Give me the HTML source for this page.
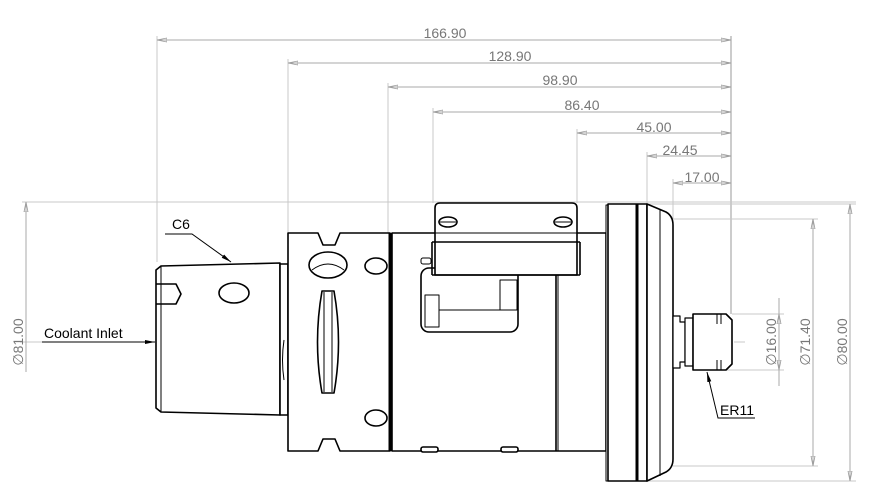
<!DOCTYPE html>
<html><head><style>body{margin:0;background:#fff}svg{display:block}</style></head><body>
<svg width="890" height="497" viewBox="0 0 890 497" xmlns="http://www.w3.org/2000/svg" font-family="Liberation Sans, sans-serif">
<defs>
<marker id="ag" markerWidth="10" markerHeight="6" refX="10" refY="3" orient="auto-start-reverse" markerUnits="userSpaceOnUse"><path d="M0,1 L10,3 L0,5 Z" fill="none" stroke="#999" stroke-width="0.8"/></marker>
<marker id="ab" markerWidth="10" markerHeight="6" refX="10" refY="3" orient="auto" markerUnits="userSpaceOnUse"><path d="M0,1 L10,3 L0,5 Z" fill="#000"/></marker>
</defs>
<g stroke="#c8c8c8" stroke-width="1" fill="none">
<line x1="157" y1="36" x2="157" y2="262"/>
<line x1="288" y1="59" x2="288" y2="233"/>
<line x1="388" y1="83" x2="388" y2="233"/>
<line x1="433" y1="108" x2="433" y2="203"/>
<line x1="577" y1="129" x2="577" y2="203"/>
<line x1="647" y1="152" x2="647" y2="204"/>
<line x1="673" y1="179" x2="673" y2="219"/>
<line x1="731" y1="36" x2="731" y2="314" stroke="#999"/>
<line x1="22" y1="202" x2="856" y2="202"/>
<line x1="647" y1="204" x2="856" y2="204"/>
<line x1="673" y1="219" x2="818" y2="219"/>
<line x1="673" y1="466" x2="818" y2="466"/>
<line x1="647" y1="481" x2="856" y2="481"/>
<line x1="732" y1="314" x2="784" y2="314"/>
<line x1="707" y1="370" x2="784" y2="370"/>
<line x1="20" y1="342" x2="745" y2="342" stroke-dasharray="30,4,4,4"/>
</g>
<g stroke="#aaa" stroke-width="1" fill="none">
<line x1="157" y1="40" x2="731" y2="40" marker-start="url(#ag)" marker-end="url(#ag)"/>
<line x1="288" y1="63" x2="731" y2="63" marker-start="url(#ag)" marker-end="url(#ag)"/>
<line x1="388" y1="87" x2="731" y2="87" marker-start="url(#ag)" marker-end="url(#ag)"/>
<line x1="433" y1="112" x2="731" y2="112" marker-start="url(#ag)" marker-end="url(#ag)"/>
<line x1="577" y1="133" x2="731" y2="133" marker-start="url(#ag)" marker-end="url(#ag)"/>
<line x1="647" y1="156" x2="731" y2="156" marker-start="url(#ag)" marker-end="url(#ag)"/>
<line x1="673" y1="183" x2="731" y2="183" marker-start="url(#ag)" marker-end="url(#ag)"/>
<line x1="26" y1="202" x2="26" y2="372" marker-start="url(#ag)"/>
<line x1="779" y1="298" x2="779" y2="386"/>
<line x1="779" y1="314" x2="779" y2="370" marker-start="url(#ag)" marker-end="url(#ag)"/>
<line x1="813" y1="219" x2="813" y2="466" marker-start="url(#ag)" marker-end="url(#ag)"/>
<line x1="850" y1="204" x2="850" y2="481" marker-start="url(#ag)" marker-end="url(#ag)"/>
</g>
<g fill="#777" font-size="14">
<text x="445" y="38" text-anchor="middle">166.90</text>
<text x="510" y="61" text-anchor="middle">128.90</text>
<text x="560" y="85" text-anchor="middle">98.90</text>
<text x="582" y="110" text-anchor="middle">86.40</text>
<text x="654" y="132" text-anchor="middle">45.00</text>
<text x="680" y="155" text-anchor="middle">24.45</text>
<text x="702" y="182" text-anchor="middle">17.00</text>
<text transform="translate(23,342) rotate(-90)" text-anchor="middle">∅81.00</text>
<text transform="translate(776,342) rotate(-90)" text-anchor="middle">∅16.00</text>
<text transform="translate(810,342) rotate(-90)" text-anchor="middle">∅71.40</text>
<text transform="translate(847,342) rotate(-90)" text-anchor="middle">∅80.00</text>
</g>
<g stroke="#000" stroke-width="1.6" fill="#fff" stroke-linejoin="round">
<path d="M161,266 L280,263 L280,415 L161,412 L156,408 L156,270 Z"/>
<path d="M156,284 L176,284 L181,294 L176,304 L156,304" fill="none"/>
<line x1="161" y1="266" x2="161" y2="412" stroke-width="1"/>
<rect x="280" y="264" width="8" height="151"/>
<path d="M288,233 L318,233 L323,245 L335,245 L340,233 L390,233 L390,451 L340,451 L335,439 L323,439 L318,451 L288,451 Z"/>
<path d="M284,340 Q281,360 284,380" fill="none" stroke-width="1"/>
<line x1="390" y1="233" x2="390" y2="451" stroke-width="3"/>
<rect x="392" y="233" width="214" height="218"/>
<line x1="556" y1="274" x2="556" y2="451"/>
<line x1="558" y1="274" x2="558" y2="451" stroke-width="1"/>
<ellipse cx="328" cy="265" rx="19" ry="13"/>
<path d="M312,270 Q328,258 344,270" fill="none" stroke-width="1"/>
<ellipse cx="376" cy="266" rx="11" ry="8"/>
<ellipse cx="376" cy="418" rx="11" ry="8"/>
<ellipse cx="234" cy="293" rx="15" ry="10"/>
<path d="M322,291 L334,291 Q343,342 334,393 L322,393 Q313,342 322,291 Z"/>
<line x1="324" y1="292" x2="324" y2="392" stroke-width="1"/>
<line x1="332" y1="292" x2="332" y2="392" stroke-width="1"/>
<rect x="421" y="268" width="97" height="64" rx="8"/>
<rect x="425" y="295" width="14" height="32" stroke-width="1"/>
<rect x="500" y="280" width="17" height="30" stroke-width="1"/>
<line x1="439" y1="310" x2="500" y2="310" stroke-width="1"/>
<path d="M435,275 L435,208 Q435,203 440,203 L572,203 Q577,203 577,208 L577,275 Z"/>
<line x1="435" y1="233" x2="577" y2="233" stroke-width="1"/>
<line x1="432" y1="242" x2="580" y2="242"/>
<line x1="432" y1="242" x2="432" y2="275"/><line x1="580" y1="242" x2="580" y2="275"/>
<line x1="432" y1="275" x2="580" y2="275"/>
<ellipse cx="448" cy="222" rx="9" ry="5"/><line x1="440" y1="222" x2="456" y2="222" stroke-width="1"/>
<ellipse cx="563" cy="222" rx="9" ry="5"/><line x1="555" y1="222" x2="571" y2="222" stroke-width="1"/>
<rect x="421" y="447" width="17" height="5" rx="2"/>
<rect x="501" y="447" width="17" height="5" rx="2"/>
<rect x="421" y="258" width="10" height="6" rx="2" stroke-width="1"/>
<rect x="606" y="205" width="4" height="276" stroke-width="1"/>
<rect x="608" y="204" width="39" height="277"/>
<line x1="637" y1="204" x2="637" y2="481" stroke-width="3"/>
<path d="M647,204 L666,212 Q673,216 673,225 L673,459 Q673,468 666,472 L647,481 Z"/>
<line x1="660" y1="210" x2="660" y2="476" stroke-width="1"/>
<path d="M673,316 L680,316 L680,322 L685,322 L685,362 L680,362 L680,368 L673,368 Z" stroke-width="1.2"/>
<rect x="685" y="318" width="8" height="48" stroke-width="1.2"/>
<path d="M693,314 L726,314 L732,320 L732,364 L726,370 L693,370 Z"/>
<path d="M717,314 L717,324 M721,314 L721,324 M717,370 L717,360 M721,370 L721,360" fill="none" stroke-width="1"/>
</g>
<g stroke="#000" stroke-width="1" fill="none">
<path d="M165,234 L192,234 L231,262" marker-end="url(#ab)"/>
<line x1="42" y1="342" x2="155" y2="342" marker-end="url(#ab)"/>
<path d="M755,418 L718,418 L707,372" marker-end="url(#ab)"/>
</g>
<g fill="#000" font-size="14">
<text x="172" y="229">C6</text>
<text x="44" y="338">Coolant Inlet</text>
<text x="720" y="415">ER11</text>
</g>
</svg>
</body></html>
